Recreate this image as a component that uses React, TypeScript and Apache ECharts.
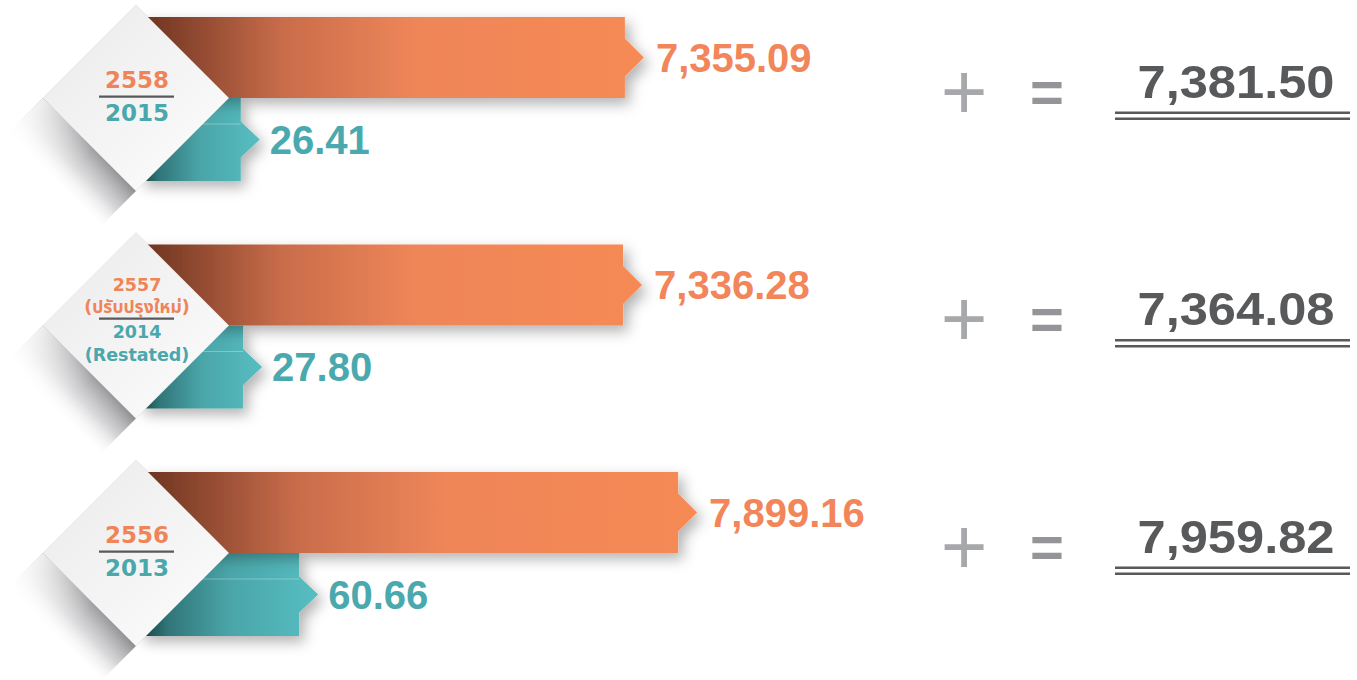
import React, { useEffect, useRef } from "react";
import * as echarts from "echarts";

const yearTh = ["2558", "2557\n(ปรับปรุงใหม่)", "2556"];
const yearEn = ["2015", "2014\n(Restated)", "2013"];
const revenueFromSales = [7355.09, 7336.28, 7899.16];
const otherIncome = [26.41, 27.8, 60.66];
const totalIncome = [7381.5, 7364.08, 7959.82];

const fmt = (v: number) =>
  v.toLocaleString("en-US", { minimumFractionDigits: 2, maximumFractionDigits: 2 });

const VALUE_FONT = '"Liberation Sans", Arial, sans-serif';
const YEAR_FONT = '"DejaVu Sans", "Noto Sans", "Noto Sans Thai", "Loma", "Tlwg Typist", sans-serif';

export default function App() {
  const ref = useRef<HTMLDivElement>(null);
  useEffect(() => {
    const chart = echarts.init(ref.current as HTMLDivElement, null, { renderer: "svg" });
    const BAR_X0 = 140;

    const orangeFill = new echarts.graphic.LinearGradient(0, 0, 1, 0, [
      { offset: 0, color: "#6a321f" },
      { offset: 0.28, color: "#c86c4a" },
      { offset: 0.55, color: "#ef8659" },
      { offset: 1, color: "#f68a55" },
    ]);
    const tealFill = new echarts.graphic.LinearGradient(0, 0, 1, 0, [
      { offset: 0, color: "#17403f" },
      { offset: 0.15, color: "#2f7477" },
      { offset: 0.5, color: "#4aa5a8" },
      { offset: 1, color: "#56bec2" },
    ]);
    const barShadow = {
      shadowBlur: 14,
      shadowColor: "rgba(0,0,0,0.3)",
      shadowOffsetX: 5,
      shadowOffsetY: 6,
    };

    const option: any = {
      animation: false,
      backgroundColor: "#ffffff",
      grid: { left: 0, right: 0, top: 0, bottom: 0 },
      xAxis: [
        { type: "value", min: 965.8, max: 14840.8, show: false },
        { type: "value", min: -114.7, max: 680.7, show: false },
      ],
      yAxis: { type: "value", inverse: true, min: -0.43077, max: 2.55824, show: false },
      series: [
        {
          type: "custom",
          name: "other",
          xAxisIndex: 1,
          z: 1,
          data: otherIncome.map((v, i) => [v, i]),
          renderItem: (params: any, api: any) => {
            const v = api.value(0);
            const [x, yc] = api.coord([v, api.value(1)]);
            const top = yc;
            const bot = yc + 83;
            const mid = (top + bot) / 2;
            const tip = x + 19;
            return {
              type: "group",
              children: [
                {
                  type: "polygon",
                  shape: {
                    points: [
                      [BAR_X0, top],
                      [x, top],
                      [x, mid - 18],
                      [tip, mid],
                      [x, mid + 18],
                      [x, bot],
                      [BAR_X0, bot],
                    ],
                  },
                  style: { fill: tealFill, ...barShadow },
                },
                {
                  type: "line",
                  shape: { x1: BAR_X0, y1: top + 26, x2: x, y2: top + 26 },
                  style: { stroke: "rgba(255,255,255,0.3)", lineWidth: 1 },
                },
                {
                  type: "text",
                  x: tip + 10,
                  y: mid,
                  style: {
                    text: fmt(v),
                    fill: "#4aa9ae",
                    font: `bold 40px ${VALUE_FONT}`,
                    align: "left",
                    verticalAlign: "middle",
                  },
                },
              ],
            };
          },
        },
        {
          type: "custom",
          name: "sales",
          xAxisIndex: 0,
          z: 2,
          data: revenueFromSales.map((v, i) => [v, i]),
          renderItem: (params: any, api: any) => {
            const v = api.value(0);
            const [x, yc] = api.coord([v, api.value(1)]);
            const top = yc - 81;
            const bot = yc;
            const mid = (top + bot) / 2;
            const tip = x + 19;
            return {
              type: "group",
              children: [
                {
                  type: "polygon",
                  shape: {
                    points: [
                      [BAR_X0, top],
                      [x, top],
                      [x, mid - 19],
                      [tip, mid],
                      [x, mid + 19],
                      [x, bot],
                      [BAR_X0, bot],
                    ],
                  },
                  style: { fill: orangeFill, ...barShadow },
                },
                {
                  type: "text",
                  x: tip + 12,
                  y: mid,
                  style: {
                    text: fmt(v),
                    fill: "#f28559",
                    font: `bold 40px ${VALUE_FONT}`,
                    align: "left",
                    verticalAlign: "middle",
                  },
                },
              ],
            };
          },
        },
        {
          type: "custom",
          name: "years",
          xAxisIndex: 0,
          z: 3,
          data: yearTh.map((_, i) => [0, i]),
          renderItem: (params: any, api: any) => {
            const i = params.dataIndex;
            const yc = api.coord([0, api.value(1)])[1];
            const cx = 136;
            const r = 93;
            const th = yearTh[i];
            const en = yearEn[i];
            const multi = th.indexOf("\n") >= 0;
            const lineY = yc + (multi ? -7 : -1.5);
            const fs = multi ? 17.5 : 23;
            const topC = multi ? lineY - 22.5 : lineY - 16.5;
            const botC = multi ? lineY + 25 : lineY + 16;
            const d = 37;
            const shadowPts = [
              [cx - r, yc],
              [cx, yc + r],
              [cx - d, yc + r + d],
              [cx - r - d, yc + d],
            ];
            const shadowFill = new echarts.graphic.LinearGradient(
              cx - r / 2, yc + r / 2, cx - r / 2 - d, yc + r / 2 + d,
              [
                { offset: 0, color: "rgba(135,135,138,0.95)" },
                { offset: 0.5, color: "rgba(185,185,188,0.6)" },
                { offset: 1, color: "rgba(255,255,255,0)" },
              ],
              true
            );
            const shadowFade = new echarts.graphic.LinearGradient(
              cx - r - d / 2, yc + d / 2, cx - d / 2, yc + r + d / 2,
              [
                { offset: 0, color: "rgba(255,255,255,0.85)" },
                { offset: 0.55, color: "rgba(255,255,255,0.15)" },
                { offset: 1, color: "rgba(255,255,255,0)" },
              ],
              true
            );
            const diamondFill = new echarts.graphic.LinearGradient(0, 0, 1, 1, [
              { offset: 0, color: "#eaeaeb" },
              { offset: 1, color: "#fdfdfd" },
            ]);
            return {
              type: "group",
              children: [
                {
                  type: "polygon",
                  shape: { points: shadowPts },
                  style: { fill: shadowFill },
                },
                {
                  type: "polygon",
                  shape: { points: shadowPts },
                  style: { fill: shadowFade },
                },
                {
                  type: "polygon",
                  shape: {
                    points: [
                      [cx, yc - r],
                      [cx + r, yc],
                      [cx, yc + r],
                      [cx - r, yc],
                    ],
                  },
                  style: { fill: diamondFill, stroke: "rgba(0,0,0,0.06)", lineWidth: 1 },
                },
                {
                  type: "rect",
                  shape: { x: 99, y: lineY - 1, width: 75, height: 2.2 },
                  style: { fill: "#58595b" },
                },
                {
                  type: "text",
                  x: cx + 1,
                  y: topC,
                  style: {
                    text: th,
                    fill: "#f08459",
                    font: `bold ${fs}px ${YEAR_FONT}`,
                    lineHeight: 22.5,
                    align: "center",
                    verticalAlign: "middle",
                  },
                },
                {
                  type: "text",
                  x: cx + 1,
                  y: botC,
                  style: {
                    text: en,
                    fill: "#4aa7ac",
                    font: `bold ${fs}px ${YEAR_FONT}`,
                    lineHeight: 22.5,
                    align: "center",
                    verticalAlign: "middle",
                  },
                },
                {
                  type: "text",
                  x: 964,
                  y: yc - 7,
                  style: {
                    text: "+",
                    fill: "#a7a8ab",
                    font: `normal 80px ${VALUE_FONT}`,
                    align: "center",
                    verticalAlign: "middle",
                  },
                },
                {
                  type: "text",
                  x: 1047,
                  y: yc - 7,
                  style: {
                    text: "=",
                    fill: "#939598",
                    font: `bold 58px ${VALUE_FONT}`,
                    align: "center",
                    verticalAlign: "middle",
                  },
                },
                {
                  type: "text",
                  x: 1236,
                  y: yc - 16.5,
                  scaleX: 1.1,
                  style: {
                    text: fmt(totalIncome[i]),
                    fill: "#58595b",
                    font: `bold 46px ${VALUE_FONT}`,
                    align: "center",
                    verticalAlign: "middle",
                  },
                },
                {
                  type: "rect",
                  shape: { x: 1115, y: yc + 13.5, width: 235, height: 2.5 },
                  style: { fill: "#58595b" },
                },
                {
                  type: "rect",
                  shape: { x: 1115, y: yc + 19.5, width: 235, height: 2.5 },
                  style: { fill: "#58595b" },
                },
              ],
            };
          },
        },
      ],
    };
    chart.setOption(option);
    return () => chart.dispose();
  }, []);
  return (
    <div
      ref={ref}
      style={{ position: "absolute", left: 0, top: 0, width: 1357, height: 680, background: "#fff" }}
    />
  );
}
